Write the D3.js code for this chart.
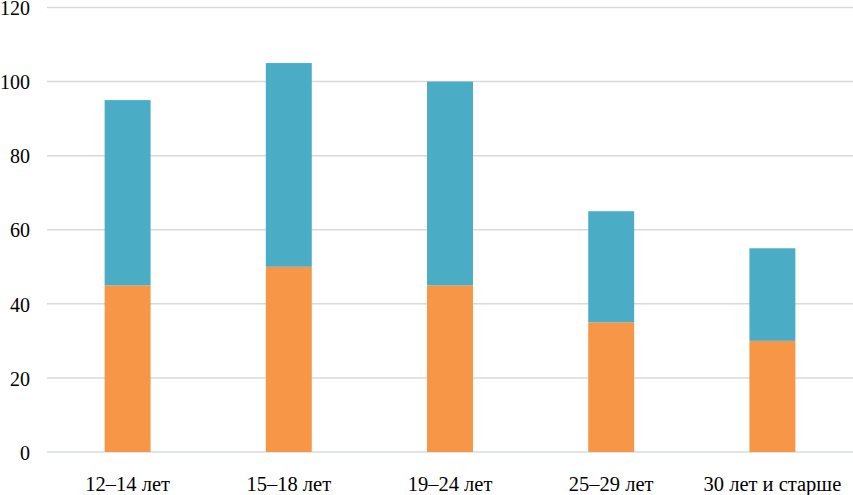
<!DOCTYPE html>
<html><head><meta charset="utf-8">
<script src="https://cdn.jsdelivr.net/npm/d3@7"></script>
<style>body{margin:0;background:#fff}svg{display:block}</style>
</head><body>
<svg id="c" width="853" height="495"></svg>
<script>
const categories = ["12–14 лет","15–18 лет","19–24 лет","25–29 лет","30 лет и старше"];
const seriesBottom = [45, 50, 45, 35, 30];
const seriesTop = [50, 55, 55, 30, 25];
const yTicks = [0, 20, 40, 60, 80, 100, 120];
const seriesColors = ["#F79646", "#4BACC6"];

(function () {
const svg = d3.select("#c");
const mLeft = 47, mRight = 853, mTop = 7.5, mBottom = 452;
const x = d3.scaleBand().domain(categories).range([mLeft, mRight]).paddingInner(0.715).paddingOuter(0.3575);
const y = d3.scaleLinear().domain([0, 120]).range([mBottom, mTop]);

const data = categories.map((c, i) => ({cat: c, s0: seriesBottom[i], s1: seriesTop[i]}));
const stack = d3.stack().keys(["s0", "s1"])(data);

svg.append("g").selectAll("line").data(yTicks).join("line")
  .attr("x1", mLeft).attr("x2", mRight)
  .attr("y1", d => y(d)).attr("y2", d => y(d))
  .attr("stroke", d => d === 0 ? "#d6dde6" : "#d9d9d9").attr("stroke-width", 1.5);

svg.append("g").selectAll("g").data(stack).join("g")
  .attr("fill", (d, i) => seriesColors[i])
  .selectAll("rect").data(d => d).join("rect")
  .attr("x", d => x(d.data.cat))
  .attr("width", x.bandwidth())
  .attr("y", d => y(d[1]))
  .attr("height", d => y(d[0]) - y(d[1]));

const font = "'Liberation Serif', 'Times New Roman', serif";
const yAxis = d3.axisLeft(y).tickValues(yTicks).tickSize(0).tickPadding(0);
const gy = svg.append("g").attr("transform", "translate(30,0)").call(yAxis);
gy.select(".domain").remove();
gy.selectAll("text").attr("font-family", font)
  .attr("font-size", 20).attr("fill", "#000").attr("dy", "0.36em");

const xAxis = d3.axisBottom(x).tickSize(0).tickPadding(0);
const gx = svg.append("g").attr("transform", "translate(0,491)").call(xAxis);
gx.select(".domain").remove();
gx.selectAll("text").attr("font-family", font)
  .attr("font-size", 20.5).attr("fill", "#000").attr("y", 0).attr("dy", 0);
})();
</script>
</body></html>
